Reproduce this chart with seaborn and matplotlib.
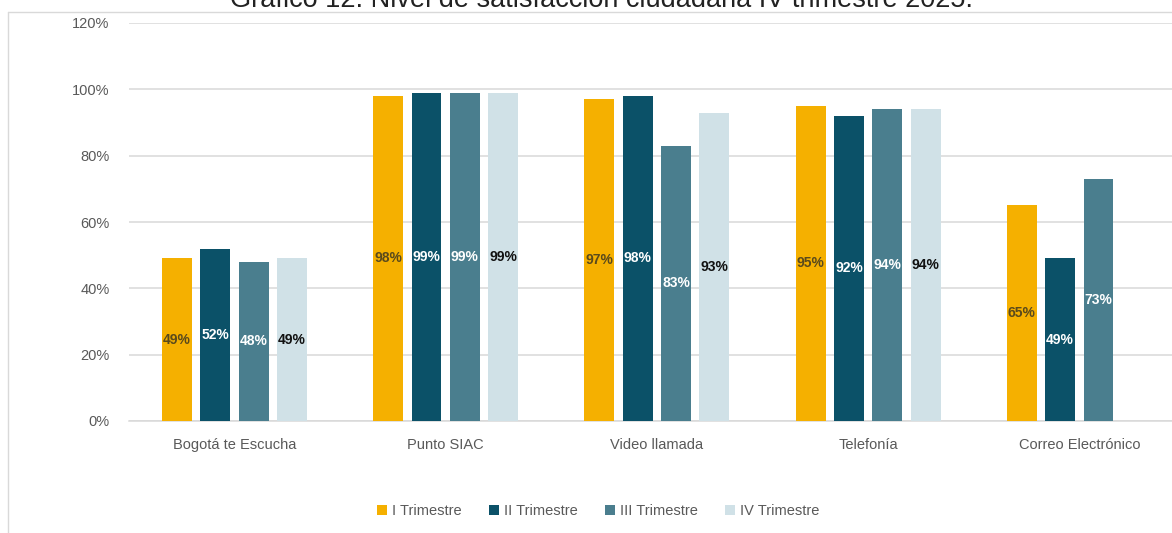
import numpy as np
import pandas as pd
import matplotlib
matplotlib.use("Agg")
import matplotlib.pyplot as plt
from matplotlib.lines import Line2D
import seaborn as sns

# Data: satisfaction (%) per attention channel and quarter
canales = ["Bogotá te Escucha", "Punto SIAC", "Video llamada", "Telefonía", "Correo Electrónico"]
trimestres = ["I Trimestre", "II Trimestre", "III Trimestre", "IV Trimestre"]
t1 = [49, 98, 97, 95, 65]
t2 = [52, 99, 98, 92, 49]
t3 = [48, 99, 83, 94, 73]
t4 = [49, 99, 93, 94, np.nan]
ticks_y = [0, 20, 40, 60, 80, 100, 120]

colores = ["#F5B000", "#0B5168", "#4A7E8E", "#D0E1E7"]
colores_etiqueta = ["#5a4a1c", "#ffffff", "#ffffff", "#111111"]

sns.set_theme(style="white")
plt.rcParams["font.family"] = ["Liberation Sans", "DejaVu Sans"]

df = pd.DataFrame({
    "canal": np.repeat(canales, 4),
    "trimestre": trimestres * len(canales),
    "valor": np.array([t1, t2, t3, t4]).T.ravel(),
})

fig = plt.figure(figsize=(11.72, 5.33), dpi=100)
ax = fig.add_axes([128.9 / 1172, 112 / 533, 1056 / 1172, 398 / 533])

sns.barplot(data=df, x="canal", y="valor", hue="trimestre", order=canales,
            hue_order=trimestres, palette=colores, saturation=1,
            width=0.726, gap=0.22, linewidth=0, legend=False, ax=ax, zorder=3)

for cont, col in zip(ax.containers, colores_etiqueta):
    ax.bar_label(cont, fmt="%.0f%%", label_type="center", color=col,
                 fontsize=10, fontweight="bold")

ax.set_ylim(0, 120)
ax.set_yticks(ticks_y)
ax.set_yticklabels([f"{v}%" for v in ticks_y], fontsize=10.5, color="#595959")
ax.set_xlabel("")
ax.set_ylabel("")
ax.tick_params(axis="y", length=0, pad=14)
ax.tick_params(axis="x", length=0, pad=12, labelsize=10.5, labelcolor="#595959")
ax.yaxis.grid(True, color="#d9d9d9", linewidth=1.1, zorder=0)
for s in ["top", "right", "left"]:
    ax.spines[s].set_visible(False)
ax.spines["bottom"].set_color("#d9d9d9")
ax.spines["bottom"].set_linewidth(1.1)

# Outer frame (top and left edges)
fig.add_artist(Line2D([8 / 1172, 1], [1 - 12 / 533] * 2, transform=fig.transFigure,
                      color="#d9d9d9", linewidth=1.0))
fig.add_artist(Line2D([8 / 1172] * 2, [0, 1 - 12 / 533], transform=fig.transFigure,
                      color="#d9d9d9", linewidth=1.0))

fig.text(602 / 1172, 1 - 7 / 533, "Gráfico 12. Nivel de satisfacción ciudadana IV trimestre 2025.",
         ha="center", va="baseline", fontsize=19.5, color="#222222")

handles = [Line2D([0], [0], marker="s", linestyle="none", markersize=7.5,
                  markerfacecolor=c, markeredgewidth=0) for c in colores]
fig.legend(handles, trimestres, loc="center", bbox_to_anchor=(598 / 1172, 1 - 511 / 533),
           ncol=4, frameon=False, fontsize=10.5, labelcolor="#595959",
           handlelength=0.7, handletextpad=0.35, columnspacing=1.85)

fig.savefig("out.png", dpi=100)
